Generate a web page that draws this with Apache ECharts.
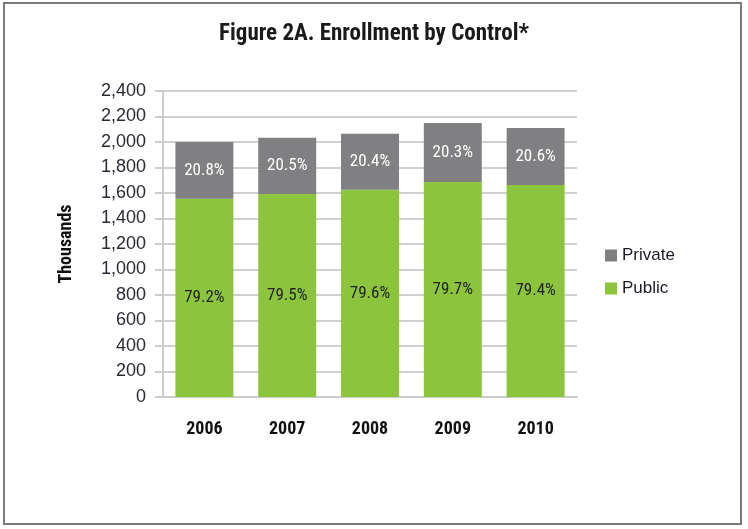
<!DOCTYPE html>
<html>
<head>
<meta charset="utf-8">
<script src="https://cdn.jsdelivr.net/npm/echarts@6/dist/echarts.min.js"></script>
<style>html,body{margin:0;padding:0;background:#fff;}#c{width:748px;height:529px;}</style>
</head>
<body>
<div id="c"></div>
<script>
const years = ['2006', '2007', '2008', '2009', '2010'];
const publicVals = [1555, 1592, 1626, 1686, 1663];
const privateVals = [445, 442, 439, 463, 447];
const publicPct = ['79.2%', '79.5%', '79.6%', '79.7%', '79.4%'];
const privatePct = ['20.8%', '20.5%', '20.4%', '20.3%', '20.6%'];
const yTicks = { min: 0, max: 2400, interval: 200 };

const narrow = "'Roboto Condensed', 'DejaVu Sans Condensed', sans-serif";
const plain = "'Liberation Sans', Arial, sans-serif";
const chart = echarts.init(document.getElementById('c'), null, { renderer: 'canvas' });
chart.setOption({
  animation: false,
  backgroundColor: '#fff',
  title: {
    text: 'Figure 2A. Enrollment by Control*',
    left: 'center',
    top: 18,
    textStyle: { fontFamily: narrow, fontWeight: 'bold', fontSize: 23, color: '#1a1a1a' }
  },
  graphic: [{
    type: 'rect',
    shape: { x: 4, y: 3, width: 737, height: 521 },
    style: { fill: null, stroke: '#7a7a7a', lineWidth: 2 },
    silent: true
  }],
  legend: {
    orient: 'vertical',
    align: 'left',
    left: 600,
    top: 242,
    padding: 5,
    itemWidth: 12,
    itemHeight: 12,
    itemGap: 16,
    icon: 'rect',
    data: ['Private', 'Public'],
    textStyle: { fontFamily: plain, fontSize: 17, color: '#1a1a2a' }
  },
  grid: { left: 163, right: 171, top: 91, bottom: 132, containLabel: false },
  xAxis: {
    type: 'category',
    data: years,
    axisLine: { show: true, lineStyle: { color: '#cccccc', width: 2 } },
    axisTick: { show: false },
    axisLabel: { margin: 23, fontFamily: narrow, fontWeight: 'bold', fontSize: 18, color: '#111' }
  },
  yAxis: {
    type: 'value',
    min: yTicks.min,
    max: yTicks.max,
    interval: yTicks.interval,
    name: 'Thousands',
    nameLocation: 'middle',
    nameRotate: 90,
    nameGap: 88,
    nameTextStyle: { fontFamily: narrow, fontWeight: 'bold', fontSize: 18, color: '#111' },
    axisLine: { show: true, lineStyle: { color: '#cccccc', width: 2 } },
    axisTick: { show: true, length: 8, lineStyle: { color: '#cccccc', width: 2 } },
    splitLine: { show: true, lineStyle: { color: '#d0d0d0', width: 2 } },
    axisLabel: {
      margin: 17,
      fontFamily: plain,
      fontSize: 18,
      color: '#2a2a35',
      formatter: v => v.toLocaleString('en-US')
    }
  },
  series: [
    {
      name: 'Public',
      type: 'bar',
      stack: 'total',
      barWidth: '70%',
      data: publicVals,
      itemStyle: { color: '#8cc43e' },
      label: {
        show: true,
        position: 'inside',
        formatter: p => publicPct[p.dataIndex],
        fontFamily: narrow,
        fontSize: 17,
        color: '#222222'
      }
    },
    {
      name: 'Private',
      type: 'bar',
      stack: 'total',
      data: privateVals,
      itemStyle: { color: '#808083' },
      label: {
        show: true,
        position: 'inside',
        formatter: p => privatePct[p.dataIndex],
        fontFamily: narrow,
        fontSize: 17,
        color: '#ffffff'
      }
    }
  ]
});
</script>
</body>
</html>
